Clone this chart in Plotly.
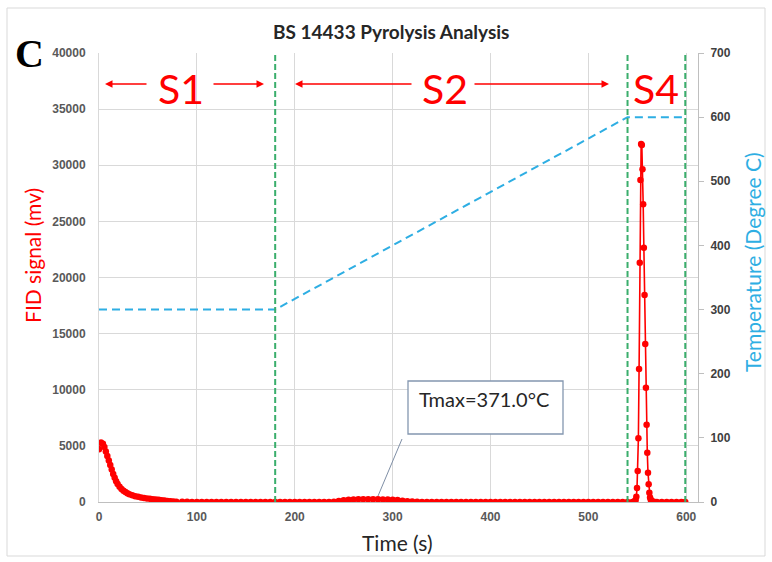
import plotly.graph_objects as go

# ---------------- data ----------------
time_s = [
    0, 2, 4, 5.5, 7, 8.5, 10, 11.5, 13, 14.5, 16, 17.5, 19, 21, 23, 25, 27, 29, 31, 34,
    37, 40, 43, 46, 49, 52, 55, 58, 61, 64, 67, 70, 73, 76, 79,
    85, 90, 95, 100, 105, 110, 115, 120, 125, 130, 135, 140, 145, 150, 155, 160, 165, 170,
    175, 180, 185, 190, 195, 200, 205, 210, 215, 220, 225, 230, 235, 240, 245, 250, 255,
    260, 265, 270, 275, 280, 285, 290, 295, 300, 305, 310, 315, 320, 325, 330, 335, 340,
    345, 350, 355, 360, 365, 370, 375, 380, 385, 390, 395, 400, 405, 410, 415, 420, 425,
    430, 435, 440, 445, 450, 455, 460, 465, 470, 475, 480, 485, 490, 495, 500, 505, 510,
    515, 520, 525, 530, 535, 540, 545,
    546.5, 547.5, 548.3, 549.0, 549.7, 550.4, 551.1, 551.8, 552.5, 553.2, 553.9,
    554.6, 555.3, 556.0, 556.7, 557.4, 558.1, 558.8, 559.5, 560.2, 560.9, 561.6, 562.3,
    563.0, 563.7, 564.4, 565.5, 567,
    570, 575, 580, 585, 590, 595, 599,
]
fid_mv = [
    4700, 5300, 5200, 4900, 4500, 4100, 3700, 3300, 2900, 2500, 2150, 1850, 1600, 1350, 1150,
    1000, 880, 780, 700, 600, 520, 460, 410, 360, 320, 285, 250, 220, 190, 160, 130, 100, 75, 50, 30,
    20, 15, 10, 5, 0, 0, 0, 0, 0, 0, 0, 0, 0, 0, 0, 0, 0, 0,
    0, 0, 0, 0, 0, 0, 0, 0, 0, 0, 0, 0, 0, 30, 80, 150, 200,
    230, 250, 250, 250, 245, 240, 230, 220, 200, 170, 120, 70, 40, 20, 10, 0, 0,
    0, 0, 0, 0, 0, 0, 0, 0, 0, 0, 0, 0, 0, 0, 0, 0, 0,
    0, 0, 0, 0, 0, 0, 0, 0, 0, 0, 0, 0, 0, 0, 0, 0, 0,
    0, 0, 0, 0, 0, 0, 0,
    20, 60, 180, 470, 1250, 2760, 5675, 11850, 21320, 28685, 31900,
    31800, 29640, 26520, 22655, 18440, 14075, 10185, 6890, 4395, 2610, 1575, 830,
    400, 200, 100, 40, 15,
    0, 0, 0, 0, 0, 0, 0,
]

temp_time = [0, 180, 540, 599]
temp_c = [300, 300, 600, 600]

stage_bounds = [180, 540, 599]
stage_labels = ["S1", "S2", "S4"]
tmax_label = "Tmax=371.0°C"

x_ticks = [0, 100, 200, 300, 400, 500, 600]

# ---------------- geometry helpers (layout only) ----------------
W, H = 772, 562
PL, PR, PT, PB = 99, 698, 53, 502
XMAX, YMAX, Y2MAX = 612, 40000, 700


def px2x(px):
    return (px - PL) / (PR - PL) * XMAX


def py2y(py):
    return (PB - py) / (PB - PT) * YMAX


def px2p(px):
    return (px - PL) / (PR - PL)


def py2p(py):
    return (PB - py) / (PB - PT)


RED = "#ff0000"
CYAN = "#2eaee3"
GREEN = "#3aae6c"
TICKC = "#595959"
GRID = "#d9d9d9"

fig = go.Figure()
fig.add_trace(go.Scatter(
    x=time_s, y=fid_mv, mode="lines+markers", yaxis="y",
    line=dict(color=RED, width=1.6),
    marker=dict(size=6.5, color=RED),
    showlegend=False,
))
fig.add_trace(go.Scatter(
    x=temp_time, y=temp_c, mode="lines", yaxis="y2",
    line=dict(color=CYAN, width=2, dash="8px,5px"),
    showlegend=False,
))

shapes = []
for b in stage_bounds:
    shapes.append(dict(type="line", xref="x", yref="paper", x0=b, x1=b, y0=0, y1=1,
                       line=dict(color=GREEN, width=2, dash="6px,3px"), layer="above"))
# Tmax box and leader
shapes.append(dict(type="rect", xref="x", yref="y", x0=px2x(408), x1=px2x(563),
                   y0=py2y(434), y1=py2y(381), line=dict(color="#8497b0", width=1.3),
                   fillcolor="white", layer="above"))
shapes.append(dict(type="line", xref="x", yref="y", x0=px2x(402), y0=py2y(439),
                   x1=px2x(378), y1=py2y(496), line=dict(color="#7f8fa6", width=1)))
# outer frame
shapes.append(dict(type="rect", xref="paper", yref="paper", x0=px2p(7), x1=px2p(765),
                   y0=py2p(556), y1=py2p(8), line=dict(color="#d9d9d9", width=1),
                   fillcolor="rgba(0,0,0,0)", layer="below"))

ann = []
font_main = "Lato, 'Open Sans', sans-serif"
# stage labels
for lab, (cx, cy) in zip(stage_labels, [(181, 88), (445, 88), (656, 88)]):
    ann.append(dict(text=lab, x=px2x(cx), y=py2y(cy), xref="x", yref="y", showarrow=False,
                    font=dict(family=font_main, size=41, color=RED), xanchor="center", yanchor="middle"))
# arrows (head, tail)
for (hx, tx) in [(105, 148), (264, 212), (295, 413), (609, 473)]:
    ann.append(dict(text="", x=px2x(hx), y=py2y(84), ax=px2x(tx), ay=py2y(84),
                    xref="x", yref="y", axref="x", ayref="y", showarrow=True,
                    arrowhead=2, arrowsize=1, arrowwidth=1.5, arrowcolor=RED))
# Tmax text
ann.append(dict(text=tmax_label, x=px2x(484), y=py2y(399), xref="x", yref="y", showarrow=False,
                font=dict(family=font_main, size=20, color="#262626"), xanchor="center", yanchor="middle"))
# title
ann.append(dict(text="<b>BS 14433 Pyrolysis Analysis</b>", x=px2p(391), y=py2p(32), xref="paper", yref="paper",
                showarrow=False, font=dict(family=font_main, size=19, color="#262626"),
                xanchor="center", yanchor="middle"))
# panel letter
ann.append(dict(text="<b>C</b>", x=px2p(29), y=py2p(54), xref="paper", yref="paper", showarrow=False,
                font=dict(family="'Liberation Serif', 'Times New Roman', serif", size=40, color="black"),
                xanchor="center", yanchor="middle"))
# axis titles
ann.append(dict(text="FID signal (mv)", x=px2p(33), y=py2p(256), xref="paper", yref="paper", showarrow=False,
                textangle=-90, font=dict(family=font_main, size=21, color=RED), xanchor="center", yanchor="middle"))
ann.append(dict(text="Temperature (Degree C)", x=px2p(752), y=py2p(262), xref="paper", yref="paper",
                showarrow=False, textangle=-90, font=dict(family=font_main, size=21, color=CYAN),
                xanchor="center", yanchor="middle"))
ann.append(dict(text="Time (s)", x=px2p(397), y=py2p(542), xref="paper", yref="paper", showarrow=False,
                font=dict(family=font_main, size=21, color="#262626"), xanchor="center", yanchor="middle"))

tickfont = dict(family="'Liberation Sans', Arial, sans-serif", size=12, color=TICKC, weight="bold")

fig.update_layout(
    width=W, height=H,
    margin=dict(l=PL, r=W - PR, t=PT, b=H - PB, pad=0),
    paper_bgcolor="white", plot_bgcolor="white",
    showlegend=False,
    xaxis=dict(range=[0, XMAX], tickvals=x_ticks, showgrid=True, gridcolor=GRID, gridwidth=1,
               zeroline=False, showline=True, linecolor="#bfbfbf", linewidth=1, ticks="",
               tickfont=tickfont, ticklabelstandoff=4),
    yaxis=dict(range=[0, YMAX], dtick=5000, tickformat="d", showgrid=True, gridcolor=GRID, gridwidth=1,
               zeroline=False, showline=True, linecolor=GRID, ticks="", tickfont=tickfont,
               ticklabelstandoff=10),
    yaxis2=dict(range=[0, Y2MAX], dtick=100, tickformat="d", overlaying="y", side="right", showgrid=False,
                zeroline=False, showline=True, linecolor="#bfbfbf", ticks="outside", ticklen=5,
                tickcolor="#bfbfbf", tickfont=dict(tickfont, color="#404040"), ticklabelstandoff=4),
    shapes=shapes,
    annotations=ann,
)

fig.write_html("out.html")
